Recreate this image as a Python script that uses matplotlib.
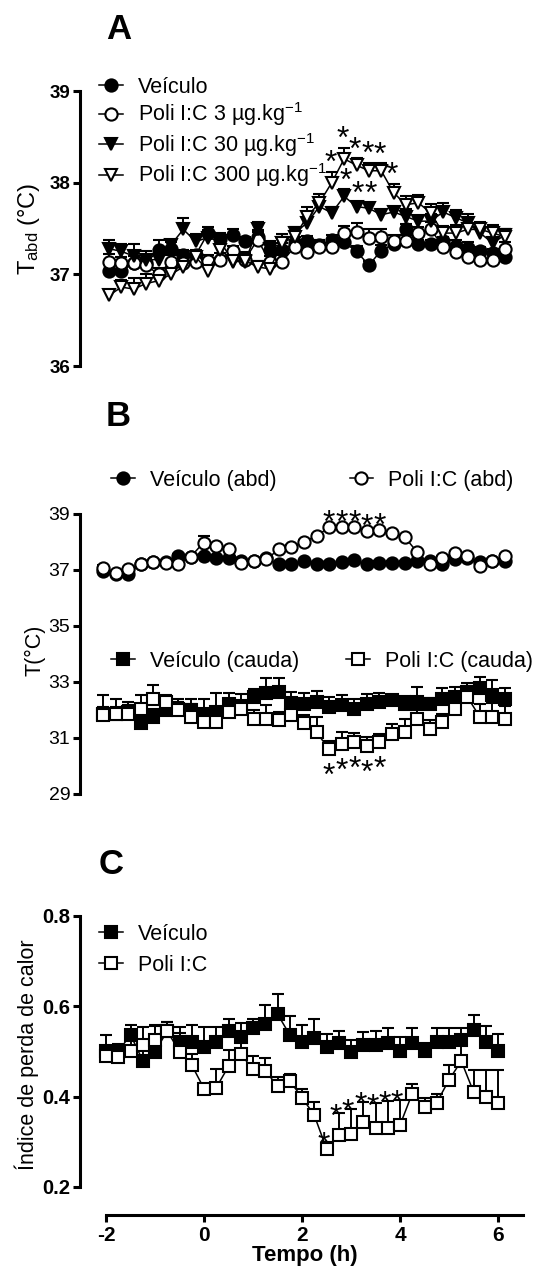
import matplotlib
matplotlib.use('Agg')
import matplotlib.pyplot as plt

# Fonts (Arial-like)
plt.rcParams['font.family'] = ['Liberation Sans', 'DejaVu Sans']
plt.rcParams['mathtext.fontset'] = 'custom'
plt.rcParams['mathtext.rm'] = 'Liberation Sans'
plt.rcParams['mathtext.it'] = 'Liberation Sans:italic'
plt.rcParams['mathtext.bf'] = 'Liberation Sans:bold'

W, H = 536, 1276

# Time points (h)
tempo = [-2.0, -1.75, -1.5, -1.25, -1.0, -0.75, -0.5, -0.25, 0.0, 0.25, 0.5, 0.75,
         1.0, 1.25, 1.5, 1.75, 2.0, 2.25, 2.5, 2.75, 3.0, 3.25, 3.5, 3.75,
         4.0, 4.25, 4.5, 4.75, 5.0, 5.25, 5.5, 5.75, 6.0]

# Panel A - abdominal temperature
veh_a = [37.04, 37.04, 37.12, 37.12, 37.27, 37.28, 37.21, 37.21, 37.45, 37.39, 37.43, 37.36,
         37.41, 37.27, 37.27, 37.34, 37.36, 37.32, 37.37, 37.35, 37.25, 37.10, 37.26, 37.33,
         37.50, 37.33, 37.33, 37.36, 37.31, 37.29, 37.25, 37.23, 37.19]
veh_a_err = [0.07, 0.06, 0.08, 0.06, 0.10, 0.07, 0.06, 0.05, 0.07, 0.06, 0.06, 0.05,
             0.07, 0.06, 0.07, 0.07, 0.06, 0.05, 0.06, 0.05, 0.06, 0.05, 0.06, 0.05,
             0.05, 0.04, 0.05, 0.05, 0.06, 0.06, 0.05, 0.05, 0.04]
p3_a = [37.14, 37.12, 37.12, 37.10, 37.00, 37.14, 37.12, 37.14, 37.15, 37.16, 37.25, 37.16,
        37.38, 37.14, 37.14, 37.30, 37.24, 37.30, 37.30, 37.45, 37.46, 37.40, 37.41, 37.36,
        37.36, 37.45, 37.49, 37.30, 37.24, 37.19, 37.16, 37.16, 37.28]
p3_a_err = [0.08, 0.07, 0.08, 0.06, 0.07, 0.07, 0.06, 0.08, 0.06, 0.07, 0.06, 0.08,
            0.08, 0.06, 0.07, 0.06, 0.06, 0.07, 0.07, 0.08, 0.10, 0.09, 0.08, 0.07,
            0.07, 0.07, 0.08, 0.06, 0.07, 0.06, 0.07, 0.06, 0.07]
p30_a = [37.28, 37.25, 37.20, 37.16, 37.16, 37.32, 37.49, 37.36, 37.40, 37.36, 37.14, 37.14,
         37.49, 37.28, 37.34, 37.45, 37.56, 37.74, 37.67, 37.85, 37.74, 37.72, 37.65, 37.68,
         37.63, 37.58, 37.58, 37.68, 37.62, 37.56, 37.45, 37.34, 37.43]
p30_a_err = [0.09, 0.08, 0.13, 0.10, 0.12, 0.06, 0.13, 0.08, 0.08, 0.07, 0.07, 0.08,
             0.08, 0.08, 0.07, 0.07, 0.06, 0.08, 0.06, 0.08, 0.05, 0.06, 0.05, 0.05,
             0.08, 0.06, 0.08, 0.10, 0.08, 0.10, 0.07, 0.07, 0.06]
p300_a = [36.77, 36.86, 36.84, 36.90, 36.93, 37.00, 37.08, 37.19, 37.04, 37.27, 37.15, 37.15,
          37.08, 37.06, 37.34, 37.41, 37.63, 37.78, 38.00, 38.26, 38.19, 38.13, 38.13, 37.89,
          37.76, 37.78, 37.67, 37.45, 37.45, 37.49, 37.49, 37.45, 37.41]
p300_a_err = [0.06, 0.08, 0.12, 0.10, 0.10, 0.12, 0.10, 0.08, 0.08, 0.12, 0.08, 0.08,
              0.07, 0.08, 0.10, 0.10, 0.10, 0.10, 0.12, 0.12, 0.08, 0.09, 0.08, 0.10,
              0.10, 0.09, 0.10, 0.08, 0.09, 0.07, 0.08, 0.09, 0.08]
stars_a300 = [18, 19, 20, 21, 22, 23]
stars_a30 = [19, 20, 21]

# Panel B - abdominal and tail temperature
veh_abd = [36.98, 36.86, 36.86, 37.20, 37.28, 37.28, 37.50, 37.48, 37.50, 37.43, 37.43, 37.32,
           37.32, 37.43, 37.20, 37.22, 37.32, 37.22, 37.22, 37.28, 37.34, 37.20, 37.26, 37.26,
           37.26, 37.32, 37.32, 37.22, 37.38, 37.43, 37.28, 37.32, 37.32]
veh_abd_err = [0.12, 0.06, 0.05, 0.05, 0.05, 0.05, 0.06, 0.05, 0.06, 0.05, 0.05, 0.05,
               0.05, 0.05, 0.05, 0.05, 0.05, 0.05, 0.05, 0.05, 0.05, 0.05, 0.05, 0.05,
               0.05, 0.05, 0.05, 0.05, 0.05, 0.05, 0.05, 0.05, 0.05]
poli_abd = [37.08, 36.90, 37.02, 37.20, 37.28, 37.26, 37.22, 37.48, 37.98, 37.86, 37.74, 37.26,
            37.32, 37.38, 37.74, 37.83, 38.01, 38.22, 38.52, 38.52, 38.52, 38.40, 38.43, 38.31,
            38.19, 37.64, 37.20, 37.44, 37.62, 37.50, 37.14, 37.32, 37.50]
poli_abd_err = [0.10, 0.05, 0.06, 0.05, 0.05, 0.05, 0.05, 0.05, 0.25, 0.08, 0.08, 0.05,
                0.05, 0.05, 0.05, 0.05, 0.05, 0.05, 0.06, 0.05, 0.05, 0.05, 0.05, 0.05,
                0.05, 0.05, 0.05, 0.05, 0.05, 0.12, 0.05, 0.05, 0.08]
veh_cauda = [31.87, 31.87, 31.93, 31.53, 31.75, 31.99, 32.05, 31.99, 31.87, 31.93, 32.23, 32.10,
             32.47, 32.59, 32.65, 32.25, 32.20, 32.29, 32.11, 32.17, 32.05, 32.23, 32.29, 32.35,
             32.23, 32.29, 32.23, 32.41, 32.47, 32.65, 32.77, 32.53, 32.41]
veh_cauda_err = [0.66, 0.54, 0.36, 0.30, 0.30, 0.36, 0.36, 0.42, 0.54, 0.66, 0.36, 0.48,
                 0.27, 0.54, 0.48, 0.40, 0.39, 0.40, 0.36, 0.36, 0.36, 0.33, 0.30, 0.18,
                 0.27, 0.52, 0.20, 0.36, 0.36, 0.30, 0.42, 0.54, 0.36]
poli_cauda = [31.81, 31.87, 31.87, 32.05, 32.41, 32.29, 31.99, 31.75, 31.57, 31.57, 31.93, 32.05,
              31.69, 31.69, 31.63, 31.81, 31.53, 31.20, 30.60, 30.78, 30.84, 30.72, 30.84, 31.14,
              31.20, 31.69, 31.33, 31.57, 32.05, 32.47, 31.75, 31.75, 31.69]
poli_cauda_err = [0.30, 0.25, 0.30, 0.50, 0.48, 0.25, 0.30, 0.45, 0.45, 0.45, 0.25, 0.30,
                  0.30, 0.50, 0.30, 0.30, 0.30, 0.54, 0.30, 0.42, 0.33, 0.30, 0.30, 0.36,
                  0.48, 0.30, 0.30, 0.30, 0.50, 0.40, 0.45, 0.50, 0.45]
stars_b = [18, 19, 20, 21, 22]

# Panel C - heat loss index
veh_c = [0.502, 0.500, 0.537, 0.480, 0.500, 0.545, 0.522, 0.522, 0.510, 0.520, 0.545, 0.533,
         0.552, 0.560, 0.583, 0.537, 0.522, 0.530, 0.511, 0.519, 0.500, 0.515, 0.515, 0.519,
         0.502, 0.519, 0.502, 0.522, 0.522, 0.526, 0.548, 0.522, 0.502]
veh_c_err = [0.035, 0.016, 0.022, 0.030, 0.059, 0.021, 0.033, 0.037, 0.044, 0.035, 0.026, 0.030,
             0.019, 0.044, 0.044, 0.041, 0.037, 0.041, 0.027, 0.026, 0.026, 0.028, 0.031, 0.032,
             0.031, 0.032, 0.016, 0.031, 0.030, 0.026, 0.032, 0.035, 0.037]
poli_c = [0.489, 0.487, 0.502, 0.515, 0.526, 0.545, 0.500, 0.470, 0.418, 0.420, 0.467, 0.494,
          0.461, 0.457, 0.424, 0.435, 0.398, 0.359, 0.285, 0.315, 0.318, 0.344, 0.330, 0.331,
          0.337, 0.407, 0.378, 0.387, 0.437, 0.479, 0.411, 0.400, 0.385]
poli_c_err = [0.020, 0.015, 0.030, 0.040, 0.030, 0.020, 0.040, 0.025, 0.010, 0.041, 0.037, 0.040,
              0.030, 0.028, 0.020, 0.015, 0.020, 0.030, 0.015, 0.048, 0.055, 0.044, 0.055, 0.060,
              0.055, 0.022, 0.020, 0.020, 0.033, 0.050, 0.048, 0.059, 0.074]
stars_c = [18, 19, 20, 21, 22, 23, 24]

fig = plt.figure(figsize=(W / 100, H / 100), dpi=100)


def make_axes(top, bottom, ylo, yhi, p_m2, p_6, right=530, left=80):
    # axes positioned in pixels, x scaled so that -2 -> p_m2 and 6 -> p_6
    ax = fig.add_axes([left / W, 1 - bottom / H, (right - left) / W, (bottom - top) / H])
    s = (p_6 - p_m2) / 8.0
    ax.set_xlim(-2 - (p_m2 - left) / s, -2 + (right - p_m2) / s)
    ax.set_ylim(ylo, yhi)
    for sp in ['top', 'right']:
        ax.spines[sp].set_visible(False)
    ax.spines['left'].set_linewidth(2.2)
    ax.spines['left'].set_bounds(ylo, yhi)
    ax.tick_params(axis='y', length=5, width=2.2, pad=2)
    ax.patch.set_visible(False)
    return ax


def serie(ax, y, err, marker, filled):
    low = [0] * len(err)
    c = ax.errorbar(tempo, y, yerr=[low, err], fmt='-', marker=marker, color='black',
                    mfc='black' if filled else 'white', mec='black', ms=8.8, mew=1.5, lw=1.1,
                    ecolor='black', elinewidth=1.4, capsize=4.3, capthick=1.6)
    for cap in c[1]:
        if list(cap.get_ydata()) == list(y):
            cap.set_visible(False)
    return c[0]


def stars(ax, idx, yvals, fs=23, dx=0.0):
    for i in idx:
        ax.annotate('*', (tempo[i] + dx, yvals[i]), xytext=(0, -0.59 * fs), textcoords='offset points',
                    ha='center', va='baseline', fontsize=fs, annotation_clip=False)


leg_kw = dict(frameon=False, fontsize=15.5, handlelength=1.1, handletextpad=0.7,
              borderpad=0, borderaxespad=0, bbox_transform=fig.transFigure, loc='upper left')

# ---------------- Panel A ----------------
axA = make_axes(91, 366, 36, 39, 109, 505)
axA.spines['bottom'].set_visible(False)
axA.set_xticks([])
axA.set_yticks([36, 37, 38, 39])
for t in axA.get_yticklabels():
    t.set_fontweight('bold')
    t.set_fontsize(13.5)
hA = [serie(axA, veh_a, veh_a_err, 'o', True),
      serie(axA, p3_a, p3_a_err, 'o', False),
      serie(axA, p30_a, p30_a_err, 'v', True),
      serie(axA, p300_a, p300_a_err, 'v', False)]
labA = ['Veículo', r'Poli I:C 3 µg.kg$^{\mathrm{-1}}$', r'Poli I:C 30 µg.kg$^{\mathrm{-1}}$',
        r'Poli I:C 300 µg.kg$^{\mathrm{-1}}$']
top300 = [v + e + 0.2 for v, e in zip(p300_a, p300_a_err)]
top30 = [v + e + 0.2 for v, e in zip(p30_a, p30_a_err)]
stars(axA, stars_a300, top300, dx=-0.03)
stars(axA, stars_a30, top30, dx=0.03)
axA.legend(hA, labA, bbox_to_anchor=(99 / W, 1 - 77 / H), labelspacing=0.12, **leg_kw)
fig.text(29 / W, 1 - 229 / H, r'T$_{\mathrm{abd}}$ (°C)', rotation=90, ha='center', va='center', fontsize=17)
fig.text(106 / W, 1 - 39 / H, 'A', fontsize=25, fontweight='bold', va='baseline')

# ---------------- Panel B ----------------
axB = make_axes(514, 794, 29, 39, 103, 505)
axB.spines['bottom'].set_visible(False)
axB.set_xticks([])
axB.set_yticks([29, 31, 33, 35, 37, 39])
for t in axB.get_yticklabels():
    t.set_fontsize(14)
h1 = serie(axB, veh_abd, veh_abd_err, 'o', True)
h2 = serie(axB, poli_abd, poli_abd_err, 'o', False)
h3 = serie(axB, veh_cauda, veh_cauda_err, 's', True)
h4 = serie(axB, poli_cauda, poli_cauda_err, 's', False)
star_abd = [v + 0.5 for v in poli_abd]
star_cau = [v - 0.6 for v in poli_cauda]
stars(axB, stars_b, star_abd)
stars(axB, stars_b, star_cau)
legB1 = axB.legend([h1, h2], ['Veículo (abd)', 'Poli I:C (abd)'], ncol=2, columnspacing=3.4,
                   bbox_to_anchor=(111 / W, 1 - 470 / H), **leg_kw)
axB.add_artist(legB1)
axB.legend([h3, h4], ['Veículo (cauda)', 'Poli I:C (cauda)'], ncol=2, columnspacing=2.2,
           bbox_to_anchor=(111 / W, 1 - 651 / H), **leg_kw)
fig.text(35 / W, 1 - 650 / H, 'T(°C)', rotation=90, ha='center', va='center', fontsize=15.5)
fig.text(106 / W, 1 - 426 / H, 'B', fontsize=25, fontweight='bold', va='baseline')

# ---------------- Panel C ----------------
axC = make_axes(916, 1187, 0.2, 0.8, 106, 498)
axC.set_yticks([0.2, 0.4, 0.6, 0.8])
axC.set_yticklabels(['0.2', '0.4', '0.6', '0.8'])
axC.set_xticks([-2, 0, 2, 4, 6])
axC.set_xticklabels(['-2', '0', '2', '4', '6'])
axC.spines['bottom'].set_position(('outward', 20))
axC.spines['bottom'].set_linewidth(2.2)
axC.spines['bottom'].set_bounds(-2, 6.5)
axC.tick_params(axis='x', length=5, width=2.2, pad=3)
for t in axC.get_yticklabels():
    t.set_fontweight('bold')
    t.set_fontsize(14.5)
for t in axC.get_xticklabels():
    t.set_fontweight('bold')
    t.set_fontsize(15)
axC.set_xlabel('Tempo (h)', fontsize=16, fontweight='bold', labelpad=0)
hC = [serie(axC, veh_c, veh_c_err, 's', True),
      serie(axC, poli_c, poli_c_err, 's', False)]
topC = [v + e + 0.015 for v, e in zip(poli_c, poli_c_err)]
stars(axC, stars_c, topC, dx=-0.06)
axC.legend(hC, ['Veículo', 'Poli I:C'], bbox_to_anchor=(99 / W, 1 - 924 / H), labelspacing=0.45, **leg_kw)
fig.text(27 / W, 1 - 1055 / H, 'Índice de perda de calor', rotation=90, ha='center', va='center', fontsize=15.5)
fig.text(99 / W, 1 - 874 / H, 'C', fontsize=25, fontweight='bold', va='baseline')

fig.savefig('out.png', dpi=100)
